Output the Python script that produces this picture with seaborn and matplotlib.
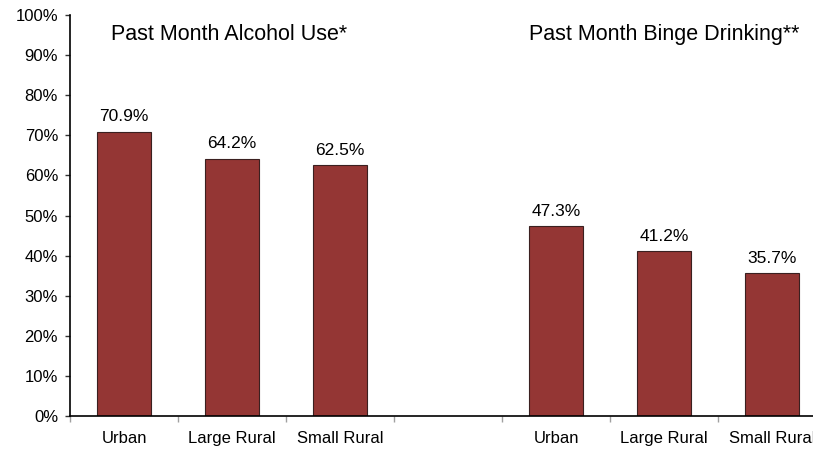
import numpy as np
import pandas as pd
import seaborn as sns
import matplotlib.pyplot as plt
from matplotlib.ticker import FixedLocator, PercentFormatter

# data
groups = ["Past Month Alcohol Use*", "Past Month Binge Drinking**"]
settings = ["Urban", "Large Rural", "Small Rural"]
alcohol = [70.9, 64.2, 62.5]
binge = [47.3, 41.2, 35.7]

# slot 3 is the empty gap between the two groups
slots = [0, 1, 2, 4, 5, 6]
df = pd.DataFrame({
    "slot": slots,
    "pct": alcohol + binge,
    "setting": settings + settings,
})

sns.set_style("white")
plt.rcParams["font.family"] = ["Liberation Sans", "DejaVu Sans"]
plt.rcParams["text.color"] = "black"
plt.rcParams["xtick.color"] = "black"
plt.rcParams["ytick.color"] = "black"

W, H = 813, 470
fig = plt.figure(figsize=(W / 100, H / 100), dpi=100)
ax = fig.add_axes([70 / W, (H - 416) / H, 7 * 108 / W, 401 / H])

sns.barplot(data=df, x="slot", y="pct", native_scale=True, width=0.5,
            color="#943634", saturation=1, edgecolor="#3a2020",
            linewidth=0.8, ax=ax)

for x, v in zip(df["slot"], df["pct"]):
    ax.text(x, v + 1.8, f"{v:.1f}%", ha="center", va="bottom", fontsize=12.5)

ax.text(0.97, 95.2, groups[0], ha="center", va="center", fontsize=15.5)
ax.text(5.0, 95.2, groups[1], ha="center", va="center", fontsize=15.5)

ax.set_xlim(-0.5, 6.5)
ax.set_ylim(0, 100)
ax.set_yticks(np.arange(0, 101, 10))
ax.yaxis.set_major_formatter(PercentFormatter(decimals=0))

ax.set_xticks(range(7))
ax.set_xticklabels(settings + [""] + settings)
ax.xaxis.set_minor_locator(FixedLocator(np.arange(-0.5, 7, 1)))
ax.tick_params(axis="x", which="major", length=0, pad=11, labelsize=12)
ax.tick_params(axis="x", which="minor", length=4, color="#a0a0a0", width=1,
               bottom=True, direction="out")
ax.tick_params(axis="y", which="major", length=3.6, color="#333333", width=1,
               labelsize=12, pad=5, left=True, direction="out")

for s in ["top", "right"]:
    ax.spines[s].set_visible(False)
for s in ["left", "bottom"]:
    ax.spines[s].set_color("black")
    ax.spines[s].set_linewidth(1.2)

ax.set_xlabel("")
ax.set_ylabel("")

fig.savefig("out.png", dpi=100)
